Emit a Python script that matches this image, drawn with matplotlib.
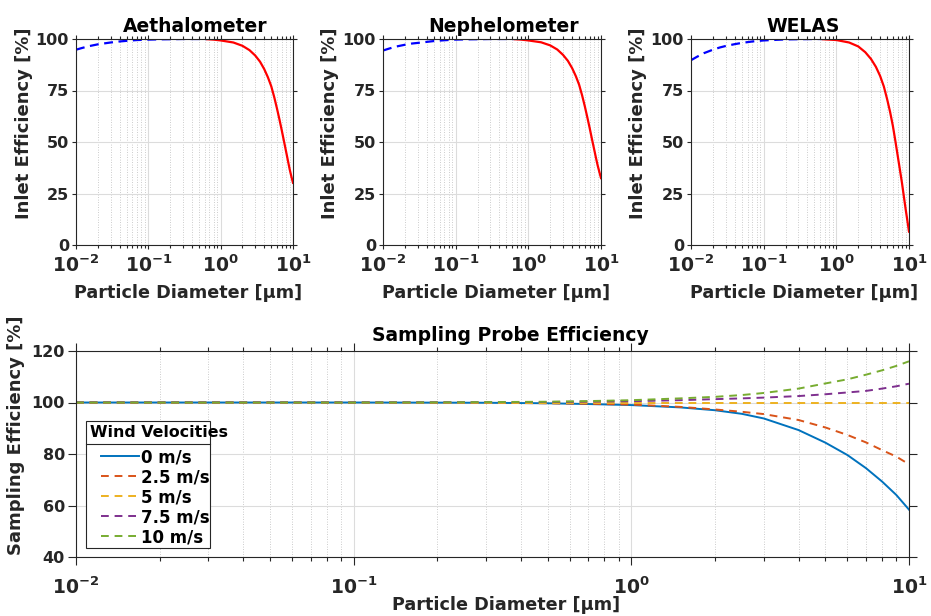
import numpy as np
import matplotlib
matplotlib.use('Agg')
import matplotlib.pyplot as plt
from matplotlib.lines import Line2D
from matplotlib.patches import Rectangle

plt.rcParams['font.family'] = 'DejaVu Sans'
plt.rcParams['font.weight'] = 'bold'
plt.rcParams['mathtext.fontset'] = 'dejavusans'

# Inlet efficiency, small particles (dashed blue) and large particles (solid red)
diam_small = [0.01, 0.012, 0.015, 0.02, 0.025, 0.03, 0.04, 0.05, 0.07, 0.1, 0.15, 0.2, 0.3, 0.5, 0.65]
diam_large = [0.65, 0.8, 1, 1.5, 2, 2.5, 3, 3.5, 4, 4.5, 5, 5.5, 6, 6.5, 7, 7.5, 8, 8.5, 9, 9.5, 10]

aeth_small = [94.8, 95.6, 96.5, 97.4, 97.9, 98.3, 98.8, 99.1, 99.5, 99.7, 99.85, 99.9, 100, 100, 100]
aeth_large = [99.9, 99.7, 99.3, 98.3, 96.7, 94.6, 92.0, 89.0, 85.4, 81.4, 77.1, 71.8, 66.3, 60.9, 55.6,
              50.4, 45.6, 41.0, 36.7, 33.2, 30.2]

neph_small = [94.4, 95.3, 96.3, 97.2, 97.8, 98.1, 98.6, 99.0, 99.4, 99.7, 99.85, 99.9, 100, 100, 100]
neph_large = [99.9, 99.7, 99.3, 98.4, 96.9, 94.9, 92.3, 89.4, 85.9, 82.0, 77.8, 72.6, 67.2, 61.8, 56.6,
              51.5, 46.9, 42.5, 38.6, 35.4, 32.5]

welas_small = [89.7, 91.3, 93.1, 94.8, 95.9, 96.6, 97.5, 98.1, 98.8, 99.3, 99.6, 99.8, 99.9, 100, 100]
welas_large = [99.9, 99.7, 99.5, 98.3, 96.4, 93.6, 90.3, 86.5, 82.1, 77.0, 70.8, 64.5, 57.8, 50.4, 43.2,
               36.5, 30.2, 23.5, 17.3, 11.8, 6.5]

panel_titles = ['Aethalometer', 'Nephelometer', 'WELAS']

# Sampling probe efficiency for several wind speeds
diam_probe = [0.01, 0.1, 0.2, 0.3, 0.5, 0.7, 1, 1.5, 2, 2.5, 3, 4, 5, 6, 7, 8, 9, 10]
probe_0 = [100, 100, 99.95, 99.9, 99.7, 99.4, 99.0, 98.1, 97.0, 95.6, 93.8, 89.3, 84.4, 79.6, 74.5, 69.3, 64.1, 58.4]
probe_25 = [100, 100, 99.95, 99.9, 99.7, 99.5, 99.2, 98.3, 97.3, 96.4, 95.5, 93.2, 90.3, 87.4, 84.5, 81.5, 79.0, 76.0]
probe_5 = [100, 100, 100, 100, 100, 100, 100, 100, 100, 100, 100, 100, 100, 100, 100, 100, 100, 100]
probe_75 = [100, 100, 100.05, 100.1, 100.2, 100.35, 100.5, 100.9, 101.3, 101.6, 101.9, 102.5, 103.2, 103.9,
            104.5, 105.4, 106.3, 107.3]
probe_10 = [100, 100, 100.05, 100.15, 100.3, 100.55, 100.9, 101.6, 102.2, 102.9, 103.7, 105.4, 107.4, 109.0,
            110.8, 112.5, 114.2, 116.0]
wind_labels = ['0 m/s', '2.5 m/s', '5 m/s', '7.5 m/s', '10 m/s']
wind_colors = ['#0072BD', '#D95319', '#EDB120', '#7E2F8E', '#77AC30']

W, H = 931, 616
fig = plt.figure(figsize=(W / 100, H / 100), dpi=100)


def add_ax(l, t, r, b):
    return fig.add_axes([l / W, 1 - b / H, (r - l) / W, (b - t) / H])


def fig_xy(px, py):
    # pixel position from the top-left corner -> figure fraction
    return px / W, 1 - py / H


xt = [0.01, 0.1, 1, 10]
xtl = [r'$\mathbf{10^{-2}}$', r'$\mathbf{10^{-1}}$', r'$\mathbf{10^{0}}$', r'$\mathbf{10^{1}}$']
minors = [m * 10.0 ** e for e in (-2, -1, 0) for m in range(2, 10)]
dark = '#262626'


def style(ax, major_len, minor_len, xpad):
    ax.set_xscale('log')
    ax.set_xlim(0.01, 10)
    ax.set_xticks(xt)
    ax.set_xticklabels(xtl)
    ax.set_xticks(minors, minor=True)
    ax.set_xticklabels([], minor=True)
    ax.tick_params(which='both', direction='out', top=True, right=True, colors=dark, width=0.8)
    ax.tick_params(which='major', length=major_len)
    ax.tick_params(which='minor', length=minor_len)
    ax.tick_params(axis='x', which='major', pad=xpad, labelsize=13.5)
    ax.tick_params(axis='y', which='major', pad=2, labelsize=11.5)
    for s in ax.spines.values():
        s.set_color(dark)
        s.set_linewidth(0.8)
    ax.grid(True, which='major', color='#dcdcdc', linewidth=0.8)
    ax.grid(True, which='minor', axis='x', color='#bbbbbb', linestyle=(0, (1, 2)), linewidth=0.6)
    ax.set_axisbelow(True)
    for lab in ax.get_yticklabels() + ax.get_xticklabels():
        lab.set_fontweight('bold')


top_boxes = [(76, 39, 293, 245), (383, 39, 601, 245), (691, 39, 909, 245)]
smalls = [aeth_small, neph_small, welas_small]
larges = [aeth_large, neph_large, welas_large]
title_x = [0.548, 0.555, 0.514]

for box, ys, yl, tt, tx in zip(top_boxes, smalls, larges, panel_titles, title_x):
    ax = add_ax(*box)
    ax.plot(diam_small, ys, color='blue', linewidth=1.6, dashes=(4, 2.5))
    ax.plot(diam_large, yl, color='red', linewidth=1.6)
    style(ax, 3, 2, 4)
    ax.set_ylim(0, 100)
    ax.set_yticks([0, 25, 50, 75, 100])
    ax.set_title(tt, fontsize=13.5, fontweight='bold', x=tx, pad=5)
    ax.set_ylabel('Inlet Efficiency [%]', fontsize=13, fontweight='bold', color=dark)
    ax.yaxis.set_label_coords(-0.2, 0.59)
    ax.set_xlabel('Particle Diameter [μm]', fontsize=12.7, fontweight='bold', color=dark)
    ax.xaxis.set_label_coords(0.518, -0.19)

# bottom panel
ax = add_ax(76, 351, 909, 557)
series = [probe_0, probe_25, probe_5, probe_75, probe_10]
for i, (ys, lab, col) in enumerate(zip(series, wind_labels, wind_colors)):
    if i == 0:
        ax.plot(diam_probe, ys, color=col, linewidth=1.4, label=lab)
    else:
        ax.plot(diam_probe, ys, color=col, linewidth=1.4, dashes=(4, 3), label=lab)
style(ax, 6, 3, 8)
ax.set_ylim(40, 120)
ax.set_yticks([40, 60, 80, 100, 120])
ax.set_title('Sampling Probe Efficiency', fontsize=13.5, fontweight='bold', x=0.522, pad=7)
ax.set_ylabel('Sampling Efficiency [%]', fontsize=13, fontweight='bold', color=dark)
ax.yaxis.set_label_coords(-0.061, 0.59)
ax.set_xlabel('Particle Diameter [μm]', fontsize=12.7, fontweight='bold', color=dark)
ax.xaxis.set_label_coords(0.516, -0.19)

# legend box: title cell on top, entries below, drawn by hand around a frameless legend
bx0, bx1, by_top, by_sep, by_bot = 86, 210, 421, 444, 548
x0, y_top = fig_xy(bx0, by_top)
x1, y_bot = fig_xy(bx1, by_bot)
_, y_sep = fig_xy(bx0, by_sep)
ax.add_patch(Rectangle((x0, y_bot), x1 - x0, y_top - y_bot, transform=fig.transFigure,
                       facecolor='white', edgecolor=dark, linewidth=0.8, zorder=4.5, clip_on=False))
ax.add_line(Line2D([x0, x1], [y_sep, y_sep], transform=fig.transFigure, color=dark,
                   linewidth=0.8, zorder=4.6, clip_on=False))
ax.text(x0 + 4 / W, (y_top + y_sep) / 2, 'Wind Velocities', fontsize=11.4, fontweight='bold',
        ha='left', va='center', color='black', zorder=4.7, transform=fig.transFigure)

leg = ax.legend(loc='upper left', bbox_to_anchor=fig_xy(101, 448), bbox_transform=fig.transFigure,
                prop={'weight': 'bold', 'size': 12}, frameon=False,
                handlelength=2.3, handletextpad=0.12, labelspacing=0.12, borderpad=0,
                borderaxespad=0)
leg.set_zorder(6)

fig.savefig('out.png', dpi=100)
